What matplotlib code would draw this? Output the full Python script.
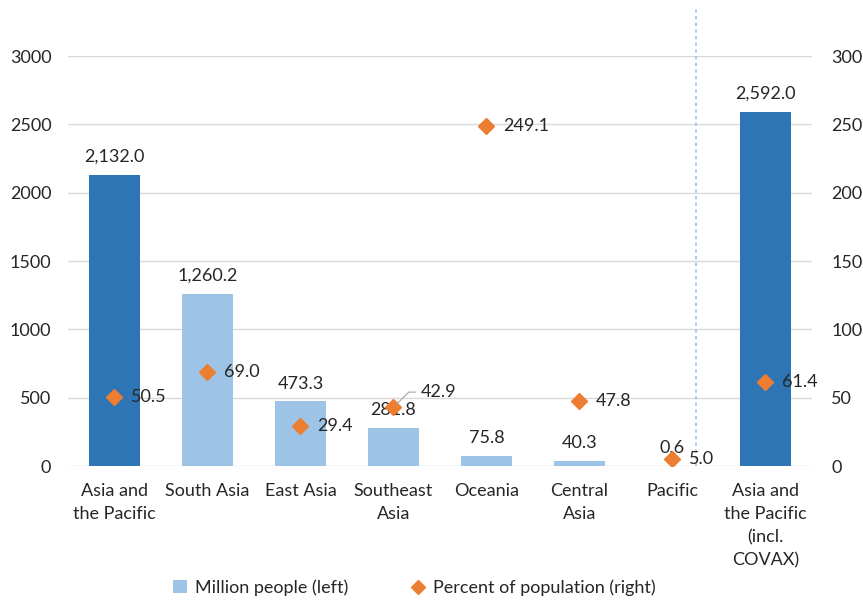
import numpy as np
import matplotlib.pyplot as plt
from matplotlib.patches import Patch
from matplotlib.lines import Line2D

plt.rcParams['font.family'] = ['Lato', 'DejaVu Sans']

categories = ["Asia and\nthe Pacific", "South Asia", "East Asia", "Southeast\nAsia",
              "Oceania", "Central\nAsia", "Pacific",
              "Asia and\nthe Pacific\n(incl.\nCOVAX)"]
million_people = [2132.0, 1260.2, 473.3, 281.8, 75.8, 40.3, 0.6, 2592.0]
percent_pop = [50.5, 69.0, 29.4, 42.9, 249.1, 47.8, 5.0, 61.4]

dark_blue = '#2E75B6'
light_blue = '#9DC3E6'
orange = '#ED7D31'
grid_col = '#D9D9D9'
txt = '#262626'
fs = 13

x = np.arange(len(categories)) + 0.5
bar_cols = [dark_blue] + [light_blue] * 6 + [dark_blue]

fig = plt.figure(figsize=(8.63, 6.01), dpi=100)
ax = fig.add_axes([0.0788, 0.2246, 0.862, 0.6822])
ax2 = ax.twinx()

ax.set_ylim(0, 3000)
ax.set_xlim(0, len(categories))
ax2.set_ylim(0, 300)
ax.set_yticks(np.arange(0, 3001, 500))
ax2.set_yticks(np.arange(0, 301, 50))
ax.yaxis.grid(True, color=grid_col, lw=1)
ax.set_axisbelow(True)
for a in (ax, ax2):
    for s in a.spines.values():
        s.set_visible(False)
    a.tick_params(length=0, labelsize=fs, colors=txt)
ax.tick_params(axis='y', pad=12)
ax2.tick_params(axis='y', pad=14)
ax.set_xticks(x)
ax.set_xticklabels(categories, fontsize=fs, va='top', linespacing=1.55)
ax.tick_params(axis='x', pad=12)

bars = ax.bar(x, million_people, width=0.54, color=bar_cols, zorder=2)
for xi, v in zip(x, million_people):
    ax.annotate(f"{v:,.1f}", (xi, v), xytext=(0, 7), textcoords='offset points',
                ha='center', va='bottom', fontsize=fs, color=txt)

ax2.plot(x, percent_pop, linestyle='none', marker='D', markersize=8,
         color=orange, zorder=3)
for i, (xi, v) in enumerate(zip(x, percent_pop)):
    if categories[i] == "Southeast\nAsia":
        ax2.annotate(f"{v:.1f}", (xi, v), xytext=(20, 11), textcoords='offset points',
                     ha='left', va='center', fontsize=fs, color=txt,
                     arrowprops=dict(arrowstyle='-', color='#A6A6A6', lw=0.8,
                                     shrinkA=2, shrinkB=3,
                                     connectionstyle='angle,angleA=0,angleB=45,rad=0'))
    else:
        ax2.annotate(f"{v:.1f}", (xi, v), xytext=(12, 0), textcoords='offset points',
                     ha='left', va='center', fontsize=fs, color=txt)

# divider before COVAX column
ax.plot([6.75, 6.75], [0, 1.117], transform=ax.get_xaxis_transform(),
        color=light_blue, lw=1.2, linestyle=(0, (2, 2)), clip_on=False, zorder=1)

handles = [Patch(facecolor=light_blue, edgecolor='none'),
           Line2D([], [], linestyle='none', marker='D', markersize=7, color=orange)]
fig.legend(handles, ["Million people (left)", "Percent of population (right)"],
           loc='center', bbox_to_anchor=(0.48, 0.022), ncol=2, frameon=False,
           fontsize=fs, handlelength=0.8, handletextpad=0.4, columnspacing=3.5,
           labelcolor=txt)

fig.savefig('out.png', dpi=100)
